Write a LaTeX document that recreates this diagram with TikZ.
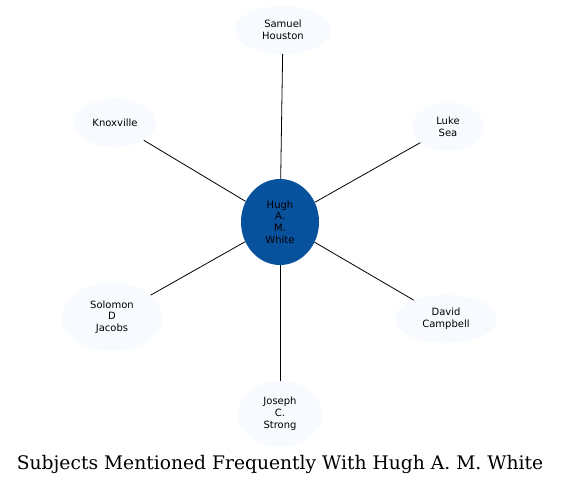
\documentclass[tikz,border=0pt]{standalone}
\usepackage{fontspec}
\newfontfamily\nodefont{DejaVu Sans}
\newfontfamily\titlefont{DejaVu Serif}
\usetikzlibrary{shapes.geometric}
\definecolor{outerfill}{HTML}{F7FBFF}
\definecolor{centerfill}{HTML}{08519C}
\begin{document}
\begin{tikzpicture}[x=1pt,y=-1pt,
  subj/.style={ellipse,fill=outerfill,draw=none,inner sep=0pt,
    font=\nodefont\fontsize{10}{11.8}\selectfont,align=center},
  hub/.style={ellipse,fill=centerfill,draw=none,inner sep=0pt,
    font=\nodefont\fontsize{10}{11.8}\selectfont,align=center},
  link/.style={draw=black,line width=0.8pt}]
\useasboundingbox (0,0) rectangle (561,484);
\fill[white] (0,0) rectangle (561,484);
\node[hub,minimum width=78,minimum height=86] (hugh) at (280,222) {Hugh\\A.\\M.\\White};
\node[subj,minimum width=96,minimum height=48] (samuel) at (283,30) {Samuel\\Houston};
\node[subj,minimum width=82,minimum height=48] (knox) at (115,123) {Knoxville};
\node[subj,minimum width=72,minimum height=48] (luke) at (448,127) {Luke\\Sea};
\node[subj,minimum width=100,minimum height=68] (solomon) at (112,317) {Solomon\\D\\Jacobs};
\node[subj,minimum width=102,minimum height=48] (david) at (446,319) {David\\Campbell};
\node[subj,minimum width=84,minimum height=66] (joseph) at (280,414) {Joseph\\C.\\Strong};
\foreach \n in {samuel,knox,luke,solomon,david,joseph}
  \draw[link] (hugh) -- (\n);
\node[font=\titlefont\fontsize{18.7}{22}\selectfont,anchor=base] (title) at (280,469) {Subjects Mentioned Frequently With Hugh A. M. White};
\end{tikzpicture}
\end{document}
